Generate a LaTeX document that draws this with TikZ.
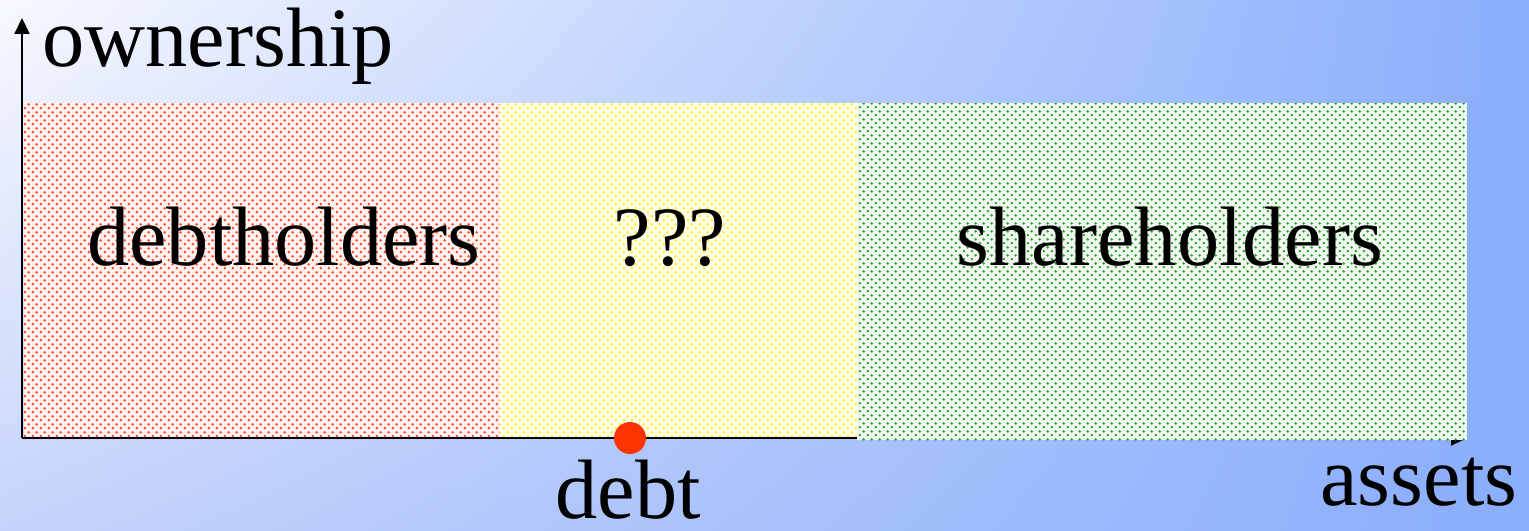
\documentclass[tikz,border=0pt]{standalone}
\usepackage{fontspec}
\setmainfont{Liberation Serif}
\newfontfamily\timesfont{Liberation Serif}
\usepackage{tikz}
\usetikzlibrary{arrows.meta, patterns, shadings, positioning}
\usepackage{xcolor}

\definecolor{bgwhite}{HTML}{F8F9FF}
\definecolor{bgleft}{HTML}{C6D4FB}
\definecolor{bgblue}{HTML}{8AAEFC}
\definecolor{dotred}{HTML}{FF4422}
\definecolor{dotyellow}{HTML}{FFF000}
\definecolor{dotgreen}{HTML}{2E9E2E}
\definecolor{debtred}{HTML}{FF3300}

% staggered dot screen
\pgfdeclarepatternformonly{screendots}{\pgfqpoint{0pt}{0pt}}{\pgfqpoint{2.2pt}{2.2pt}}{\pgfqpoint{2.2pt}{2.2pt}}{
  \pgfpathcircle{\pgfqpoint{0.55pt}{0.55pt}}{0.4pt}
  \pgfpathcircle{\pgfqpoint{1.65pt}{1.65pt}}{0.4pt}
  \pgfusepath{fill}
}

\tikzset{
  axis/.style={line width=0.7pt, -{Triangle[length=4.5pt,width=4.2pt]}},
  zone/.style={draw=none, preaction={fill=#1!7!white}, pattern=screendots, pattern color=#1},
  lbl/.style={font=\timesfont\fontsize{24}{28}\selectfont, inner sep=0pt}
}

\begin{document}
\begin{tikzpicture}

  % Background
  \shade[upper left=bgwhite, upper right=bgblue, lower left=bgleft, lower right=bgblue]
    (0,0) rectangle (15.29,5.30);
  \useasboundingbox (0,0) rectangle (15.29,5.30);

  % Axes
  \coordinate (origin) at (0.22,0.92);
  \coordinate (ytip) at (0.22,5.12);
  \coordinate (xtip) at (14.67,0.92);
  \draw[axis] (origin) -- (ytip);
  \draw[axis] (origin) -- (xtip);

  % Ownership zones
  \draw[zone=dotred] (0.24,0.935) rectangle (5.00,4.27);
  \draw[zone=dotyellow] (5.00,0.935) rectangle (8.57,4.27);
  \draw[zone=dotgreen] (8.57,0.90) rectangle (14.67,4.27);

  \node[lbl, anchor=base] (debtholders) at (2.84,2.65) {debtholders};
  \node[lbl, anchor=base] (unknown) at (6.70,2.65) {???};
  \node[lbl, anchor=base] (shareholders) at (11.70,2.65) {shareholders};

  % Axis labels
  \node[lbl, anchor=base west] (ownership) at (0.42,4.64) {ownership};
  \node[lbl, anchor=base east] (assets) at (15.18,0.25) {assets};

  % Debt level
  \node[circle, fill=debtred, minimum size=0.32cm, inner sep=0pt] (debtdot) at (6.30,0.92) {};
  \node[lbl, anchor=base] (debt) at (6.28,0.12) {debt};

\end{tikzpicture}
\end{document}
